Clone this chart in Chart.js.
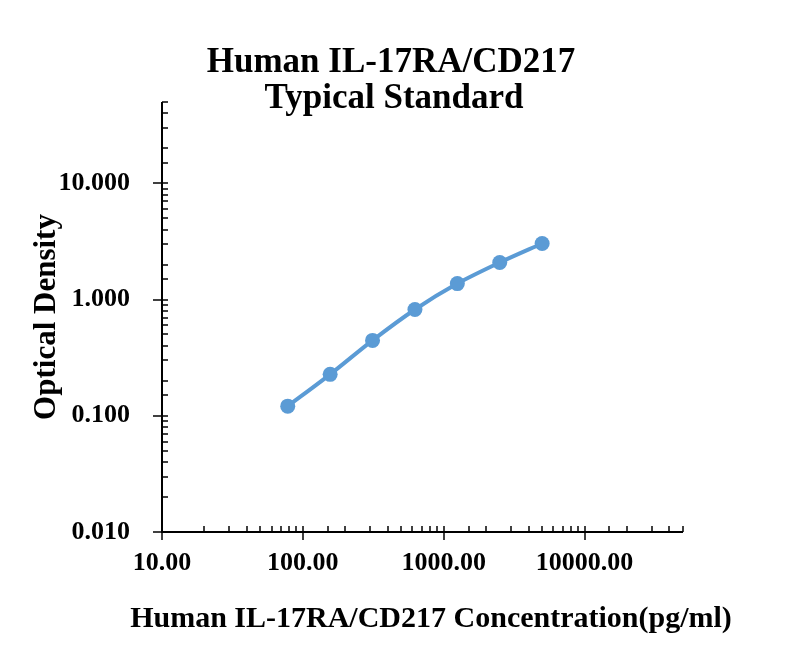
<!DOCTYPE html>
<html>
<head>
<meta charset="utf-8">
<script src="https://cdn.jsdelivr.net/npm/chart.js@4.4.1/dist/chart.umd.min.js"></script>
<style>
    html, body { margin: 0; padding: 0; background: #fff; }
    canvas { display: block; }
</style>
</head>
<body>
<canvas id="stdChart" width="800" height="656"></canvas>
<script>
// standard curve readings
const concentrations = [78.125, 156.25, 312.5, 625, 1250, 2500, 5000];
const opticalDensity = [0.121, 0.227, 0.445, 0.82, 1.37, 2.08, 3.03];

const titleLines = ['Human IL-17RA/CD217', 'Typical Standard'];
const xTitle = 'Human IL-17RA/CD217 Concentration(pg/ml)';
const yTitle = 'Optical Density';

const serif = "'Liberation Serif', 'Times New Roman', serif";
const blue = '#5b9bd5';

function isDecade(v) {
    const l = Math.log10(v);
    return Math.abs(l - Math.round(l)) < 1e-9;
}

// title, x title, axis lines + excel style tick marks
const excelAxes = {
    id: 'excelAxes',
    beforeDatasetsDraw(chart) {
        const { ctx, chartArea: a, scales } = chart;
        ctx.save();
        ctx.strokeStyle = '#000';
        ctx.lineWidth = 2;

        ctx.beginPath();
        ctx.moveTo(a.left, a.top);
        ctx.lineTo(a.left, a.bottom);
        ctx.lineTo(a.right, a.bottom);
        ctx.stroke();

        ctx.lineWidth = 1.5;
        scales.y.ticks.forEach(t => {
            const y = Math.round(scales.y.getPixelForValue(t.value));
            ctx.beginPath();
            ctx.moveTo(isDecade(t.value) ? a.left - 9 : a.left, y);
            ctx.lineTo(a.left + 6, y);
            ctx.stroke();
        });
        scales.x.ticks.forEach(t => {
            const x = Math.round(scales.x.getPixelForValue(t.value));
            ctx.beginPath();
            ctx.moveTo(x, isDecade(t.value) ? a.bottom + 8 : a.bottom);
            ctx.lineTo(x, a.bottom - 6);
            ctx.stroke();
        });
        ctx.restore();
    },
    afterDraw(chart) {
        const { ctx } = chart;
        ctx.save();
        ctx.fillStyle = '#000';
        ctx.textAlign = 'center';
        ctx.textBaseline = 'alphabetic';
        ctx.font = 'bold 35px ' + serif;
        ctx.fillText(titleLines[0], 391, 72);
        ctx.fillText(titleLines[1], 394, 108);
        ctx.font = 'bold 30px ' + serif;
        ctx.fillText(xTitle, 431, 627);
        ctx.restore();
    }
};

new Chart(document.getElementById('stdChart'), {
    type: 'scatter',
    data: {
        datasets: [{
            data: concentrations.map((c, i) => ({ x: c, y: opticalDensity[i] })),
            showLine: true,
            borderColor: blue,
            backgroundColor: blue,
            borderWidth: 4,
            pointRadius: 7.5,
            pointHoverRadius: 7.5,
            pointBorderWidth: 0,
            tension: 0.3
        }]
    },
    options: {
        responsive: false,
        animation: false,
        layout: { padding: { top: 102, right: 117, left: 0, bottom: 0 } },
        plugins: {
            legend: { display: false },
            tooltip: { enabled: false }
        },
        scales: {
            x: {
                type: 'logarithmic',
                min: 10,
                max: 50000,
                grid: { display: false, drawTicks: false },
                border: { display: false },
                afterFit: s => { s.height = 124; },
                ticks: {
                    autoSkip: false,
                    maxRotation: 0,
                    padding: 16,
                    color: '#000',
                    font: { family: serif, size: 26, weight: 'bold' },
                    callback: v => isDecade(v) ? v.toFixed(2) : ''
                }
            },
            y: {
                type: 'logarithmic',
                min: 0.01,
                max: 50,
                grid: { display: false, drawTicks: false },
                border: { display: false },
                afterFit: s => { s.width = 162; },
                ticks: {
                    autoSkip: false,
                    padding: 32,
                    color: '#000',
                    font: { family: serif, size: 26, weight: 'bold' },
                    callback: v => isDecade(v) ? v.toFixed(3) : ''
                },
                title: {
                    display: true,
                    text: yTitle,
                    color: '#000',
                    padding: { top: 28, bottom: 0 },
                    font: { family: serif, size: 31, weight: 'bold' }
                }
            }
        }
    },
    plugins: [excelAxes]
});
</script>
</body>
</html>
